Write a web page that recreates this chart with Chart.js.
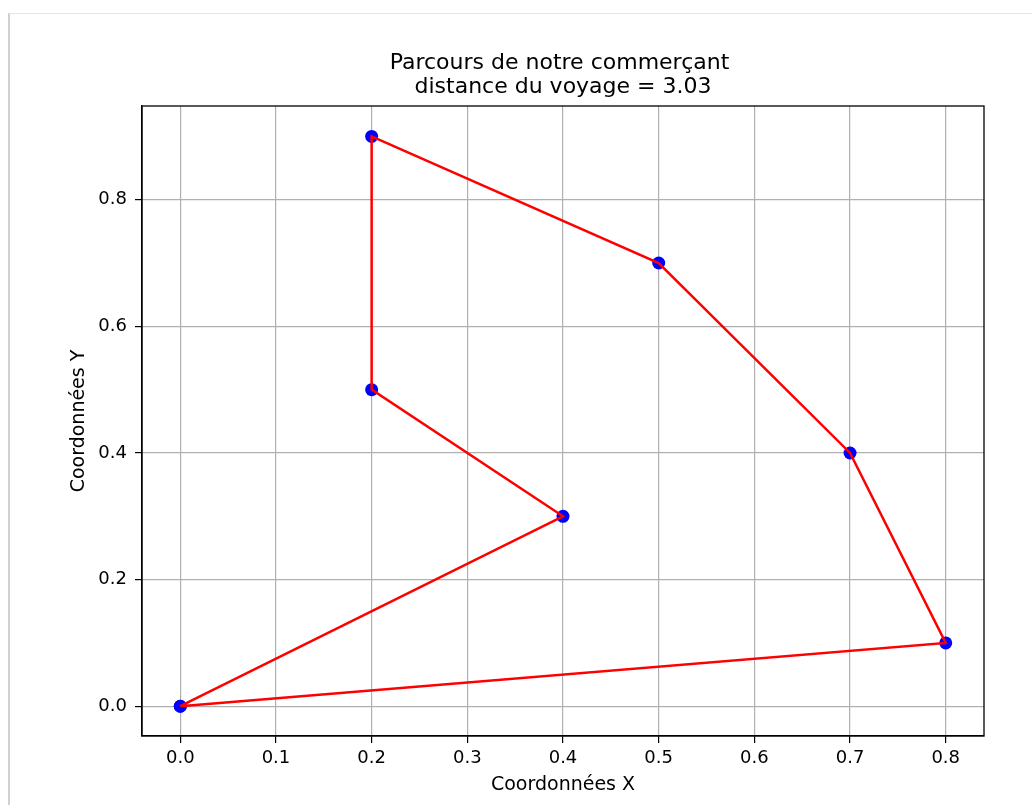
<!DOCTYPE html>
<html>
<head>
<meta charset="utf-8">
<script src="https://cdn.jsdelivr.net/npm/chart.js@4"></script>
<style>
  body { margin: 0; background: #fff; }
  #frame { position: absolute; left: 8px; top: 13px; width: 1024px; height: 792px;
           border-left: 2px solid #d0d0d0; border-top: 1px solid #e4e4e4; }
  #tour { position: absolute; left: 0; top: 0; }
</style>
</head>
<body>
<div id="frame"></div>
<canvas id="tour" width="1032" height="805"></canvas>
<script>
// ordre de visite des villes (retour au depart)
var routeX = [0.0, 0.4, 0.2, 0.2, 0.5, 0.7, 0.8, 0.0];
var routeY = [0.0, 0.3, 0.5, 0.9, 0.7, 0.4, 0.1, 0.0];
var xTicks = [0.0, 0.1, 0.2, 0.3, 0.4, 0.5, 0.6, 0.7, 0.8];
var yTicks = [0.0, 0.2, 0.4, 0.6, 0.8];
var titleLines = ['Parcours de notre commerçant ', 'distance du voyage = 3.03'];

var pts = []
for (var i = 0; i < routeX.length; i++) {
  pts.push({x: routeX[i], y: routeY[i]});
}

var font = 'DejaVu Sans';

// cadre complet autour de la zone du graphe
var boxPlugin = {
  id: 'box',
  afterDatasetsDraw: function(chart) {
    var a = chart.chartArea, c = chart.ctx;
    c.save();
    c.strokeStyle = '#000';
    c.lineWidth = 1.3;
    c.strokeRect(a.left, a.top, a.right - a.left, a.bottom - a.top);
    c.restore();
  }
};

var ctx = document.getElementById('tour').getContext('2d');
window.myTour = new Chart(ctx, {
  type: 'scatter',
  data: {
    datasets: [{
      type: 'line',
      data: pts,
      borderColor: '#ff0000',
      borderWidth: 2.5,
      pointRadius: 0,
      fill: false,
      tension: 0
    }, {
      data: pts,
      backgroundColor: '#0000ff',
      borderColor: '#0000ff',
      pointRadius: 6.5,
      borderWidth: 0
    }]
  },
  options: {
    responsive: false,
    animation: false,
    layout: { padding: { left: 0, right: 48, top: 0, bottom: 0 } },
    plugins: {
      legend: { display: false },
      tooltip: { enabled: false },
      title: {
        display: true,
        fullSize: false,
        text: titleLines,
        color: '#000',
        font: { family: font, size: 22, weight: 'normal', lineHeight: '24px' },
        padding: { top: 51, bottom: 7 }
      }
    },
    scales: {
      x: {
        type: 'linear',
        min: -0.04,
        max: 0.84,
        afterBuildTicks: function(s) { s.ticks = xTicks.map(function(v) { return {value: v}; }); },
        afterFit: function(s) { s.height = 69; },
        ticks: {
          color: '#000',
          padding: 5,
          font: { family: font, size: 18 },
          callback: function(v) { return v.toFixed(1); }
        },
        grid: { color: '#b0b0b0', lineWidth: 1.2, tickColor: '#000', tickLength: 7 },
        border: { color: '#000', width: 1.3 },
        title: {
          display: true,
          text: 'Coordonnées X',
          color: '#000',
          font: { family: font, size: 19 },
          padding: { top: 0, bottom: 9 }
        }
      },
      y: {
        type: 'linear',
        min: -0.047,
        max: 0.948,
        afterBuildTicks: function(s) { s.ticks = yTicks.map(function(v) { return {value: v}; }); },
        afterFit: function(s) { s.width = 142; },
        ticks: {
          color: '#000',
          padding: 8,
          font: { family: font, size: 18 },
          callback: function(v) { return v.toFixed(1); }
        },
        grid: { color: '#b0b0b0', lineWidth: 1.2, tickColor: '#000', tickLength: 7 },
        border: { color: '#000', width: 1.3 },
        title: {
          display: true,
          text: 'Coordonnées Y',
          color: '#000',
          font: { family: font, size: 19 },
          padding: { top: 68, bottom: 0 }
        }
      }
    }
  },
  plugins: [boxPlugin]
});
</script>
</body>
</html>
